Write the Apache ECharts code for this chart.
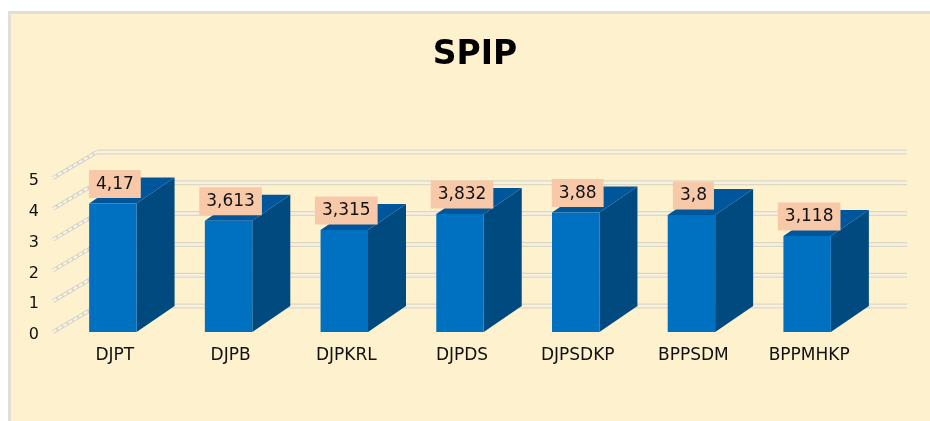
<!DOCTYPE html>
<html>
<head>
<meta charset="utf-8">
<title>SPIP</title>
<script src="https://cdn.jsdelivr.net/npm/echarts@6/dist/echarts.min.js"></script>
<style>
  html, body { margin: 0; padding: 0; background: #fff; }
  #chart { width: 930px; height: 421px; }
</style>
</head>
<body>
<div id="chart"></div>
<script>
var categories = ["DJPT", "DJPB", "DJPKRL", "DJPDS", "DJPSDKP", "BPPSDM", "BPPMHKP"];
var values = [4.17, 3.613, 3.315, 3.832, 3.88, 3.8, 3.118];
var yTicks = [0, 1, 2, 3, 4, 5];

var myChart = echarts.init(document.getElementById("chart"));

// the 3d look is only offsets from the front plane
var wallDx = 42, wallDy = 26;
var barDx = 38, barDy = 26;

function renderWall(params, api) {
  var p = api.coord([0, api.value(0)]);
  var left = params.coordSys.x;
  var right = left + params.coordSys.width;
  var y = p[1];
  var diag = { x1: left - 2, y1: y, x2: left + wallDx, y2: y - wallDy };
  var back = { x1: left + wallDx, y1: y - wallDy, x2: right + wallDx, y2: y - wallDy };
  return {
    type: "group",
    children: [
      { type: "line", shape: diag, style: { stroke: "#d8d4c6", lineWidth: 4 } },
      { type: "line", shape: diag, style: { stroke: "#f8f6ee", lineWidth: 2, lineDash: [4, 2] } },
      { type: "line", shape: back, style: { stroke: "#dfd8c0", lineWidth: 5 } },
      { type: "line", shape: back, style: { stroke: "#f5f1e5", lineWidth: 2.5 } }
    ]
  };
}

function renderBar(params, api) {
  var idx = api.value(0);
  var v = api.value(1);
  var top = api.coord([idx, v]);
  var base = api.coord([idx, 0]);
  var w = api.size([1, 0])[0] * 0.41;
  var x0 = top[0] - w / 2, x1 = top[0] + w / 2;
  return {
    type: "group",
    children: [
      {
        type: "polygon",
        shape: { points: [[x1, top[1]], [x1 + barDx, top[1] - barDy], [x1 + barDx, base[1] - barDy], [x1, base[1]]] },
        style: { fill: "#004a80" }
      },
      {
        type: "polygon",
        shape: { points: [[x0, top[1]], [x0 + barDx, top[1] - barDy], [x1 + barDx, top[1] - barDy], [x1, top[1]]] },
        style: { fill: "#00569b" }
      },
      {
        type: "rect",
        shape: { x: x0, y: top[1], width: w, height: base[1] - top[1] },
        style: { fill: "#0070c0" }
      },
      {
        type: "text",
        x: top[0] + 2,
        y: top[1] - 5.5,
        style: {
          text: String(v).replace(".", ","),
          font: "17px 'DejaVu Sans'",
          fill: "#111",
          align: "center",
          verticalAlign: "bottom",
          backgroundColor: "#f8c9a9",
          padding: [6, 7, 5, 7]
        }
      }
    ]
  };
}

var option = {
  backgroundColor: "#fff",
  animation: false,
  title: {
    text: "SPIP",
    left: 470,
    top: 34,
    textAlign: "center",
    textStyle: { fontFamily: "DejaVu Sans", fontWeight: "bold", fontSize: 33, color: "#000" }
  },
  graphic: [{
    type: "rect",
    z: -10,
    shape: { x: 9.5, y: 12.5, width: 930, height: 420 },
    style: { fill: "#fef1cd", stroke: "#e2e0d6", lineWidth: 3 }
  }],
  grid: { left: 55, right: 65, top: 178, bottom: 89 },
  xAxis: {
    type: "category",
    data: categories,
    axisLine: { show: false },
    axisTick: { show: false },
    axisLabel: {
      interval: 0,
      margin: 15,
      padding: [0, 0, 0, 4],
      fontFamily: "DejaVu Sans",
      fontSize: 17,
      color: "#111"
    }
  },
  yAxis: {
    type: "value",
    min: 0,
    max: 5,
    interval: 1,
    axisLine: { show: false },
    axisTick: { show: false },
    splitLine: { show: false },
    axisLabel: {
      margin: 16,
      verticalAlign: "top",
      lineHeight: 6,
      fontFamily: "DejaVu Sans",
      fontSize: 16,
      color: "#111"
    }
  },
  series: [
    {
      type: "custom",
      renderItem: renderWall,
      data: yTicks.map(function (t) { return [t]; }),
      encode: { y: 0 },
      silent: true,
      z: 1
    },
    {
      type: "custom",
      renderItem: renderBar,
      data: values.map(function (v, i) { return [i, v]; }),
      encode: { x: 0, y: 1 },
      silent: true,
      z: 2
    }
  ]
};

myChart.setOption(option);
</script>
</body>
</html>
